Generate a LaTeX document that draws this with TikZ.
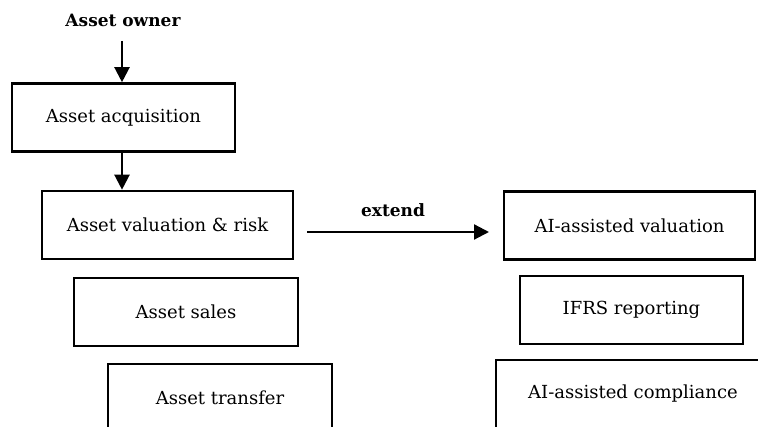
\documentclass[tikz,border=0pt]{standalone}
\usepackage{fontspec}
\setmainfont{DejaVu Serif}
\usetikzlibrary{arrows.meta}
\begin{document}
\begin{tikzpicture}[x=1pt,y=-1pt,
  box/.style={draw=black, line width=2.6pt, fill=white, inner sep=0pt,
    minimum height=68pt, font=\fontsize{18}{22}\selectfont, anchor=center},
  lbl/.style={font=\bfseries\fontsize{17}{21}\selectfont, inner sep=0pt},
  arr/.style={line width=2.2pt, -{Triangle[width=15pt,length=15pt]}}]
\useasboundingbox (0,0) rectangle (758,427);
\clip (0,0) rectangle (758,427);
\node[lbl] (owner) at (123,20) {Asset owner};
\node[box, minimum width=223pt] (acq) at (123.5,117.5) {Asset acquisition};
\node[box, minimum width=251pt] (val) at (167.5,225) {Asset valuation \& risk};
\node[box, minimum width=224pt] (sales) at (186,312) {Asset sales};
\node[box, minimum width=224pt] (transfer) at (220,398) {Asset transfer};
\node[box, minimum width=251pt] (aival) at (629.5,225.5) {AI-assisted valuation};
\node[box, minimum width=223pt] (ifrs) at (631.5,310) {IFRS reporting};
\node[box, minimum width=274pt] (aicomp) at (633,394) {AI-assisted compliance};
\coordinate (ownerend) at (122,41);
\draw[arr] (ownerend) -- (ownerend |- acq.north);
\coordinate (acqend) at (122,152);
\draw[arr] (acqend) -- (acqend |- val.north);
\coordinate (extstart) at (307,232);
\coordinate (extend) at (489,232);
\draw[arr] (extstart) -- (extend);
\node[lbl] (extlbl) at (393,210) {extend};
\end{tikzpicture}
\end{document}
